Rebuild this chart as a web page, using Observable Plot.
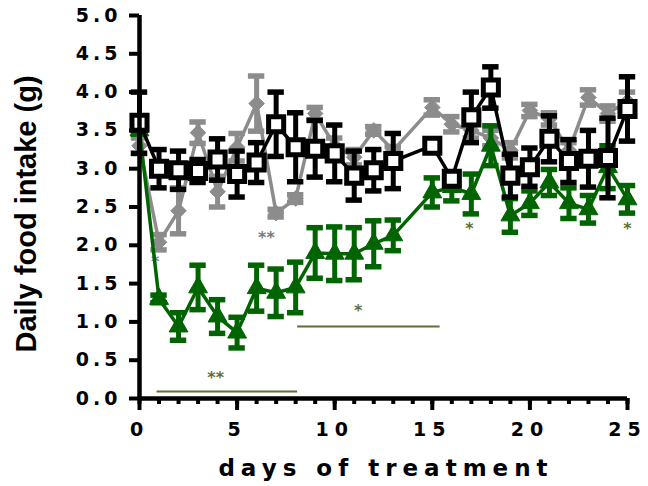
<!DOCTYPE html>
<html><head><meta charset="utf-8">
<script src="https://cdn.jsdelivr.net/npm/d3@7"></script>
<script src="https://cdn.jsdelivr.net/npm/@observablehq/plot@0.6"></script>
<style>
body{margin:0;background:#fff;}
#chart svg{display:block;}
#chart g[aria-label="y-axis tick label"] text{letter-spacing:4px;}
#chart g[aria-label="x-axis tick label"] text{letter-spacing:6px;}
</style>
</head><body><div id="chart"></div>
<script>
// ---- data ----
const days = [0,1,2,3,4,5,6,7,8,9,10,11,12,13,15,16,17,18,19,20,21,22,23,24,25];

const blackMean = [3.60,3.00,2.98,2.97,3.12,2.93,3.08,3.58,3.28,3.26,3.20,2.91,2.98,3.10,3.30,2.87,3.67,4.06,2.91,3.02,3.39,3.10,3.13,3.14,3.78];
const blackSem  = [0.40,0.25,0.25,0.15,0.27,0.30,0.26,0.42,0.45,0.37,0.37,0.32,0.27,0.36,0.05,0.08,0.33,0.27,0.28,0.25,0.30,0.28,0.37,0.52,0.42];

const grayMean = [3.30,2.04,2.45,3.47,2.70,3.28,3.85,2.42,2.61,3.72,3.30,3.15,3.50,3.24,3.80,3.58,3.50,3.40,3.24,3.76,3.65,3.24,3.93,3.72,3.88];
const graySem  = [0.10,0.10,0.30,0.14,0.20,0.18,0.36,0.05,0.05,0.08,0.10,0.10,0.05,0.05,0.10,0.10,0.10,0.10,0.10,0.08,0.08,0.10,0.10,0.10,0.12];

const greenMean = [3.50,1.30,0.94,1.45,1.07,0.86,1.44,1.38,1.45,1.90,1.89,1.89,2.02,2.13,2.69,2.76,2.67,3.30,2.39,2.55,2.82,2.55,2.47,3.02,2.60];
const greenSem  = [0.05,0.05,0.18,0.29,0.22,0.20,0.30,0.31,0.33,0.33,0.35,0.34,0.30,0.20,0.19,0.18,0.26,0.26,0.22,0.16,0.17,0.20,0.18,0.28,0.18];

// significance annotations
const starText  = ["*","**","**","*","*","*"];
const starDay   = [0.8,6.5,3.9,11.2,16.9,25];
const starValue = [1.78,2.10,0.27,1.14,2.22,2.22];
const starGroup = ["gray","gray","green","green","green","green"];

const barFrom  = [0.9,8.1];
const barTo    = [8.1,15.4];
const barValue = [0.09,0.94];

const xTicks = [0,5,10,15,20,25];
const yTicks = [0,0.5,1,1.5,2,2.5,3,3.5,4,4.5,5];

// ---- build ----
const rows = (m, s) => days.map((d, i) => ({day: d, mean: m[i], sem: s[i]}));
const black = rows(blackMean, blackSem);
const gray = rows(grayMean, graySem);
const green = rows(greenMean, greenSem);
const stars = starText.map((t, i) => ({t, day: starDay[i], v: starValue[i], g: starGroup[i]}));
const bars = barFrom.map((a, i) => ({a, b: barTo[i], v: barValue[i]}));

const GREEN = "#006400", GRAY = "#8c8c8c", OLIVE = "#5f6f35", STARGRAY = "#7a7a7a";
const cap = 0.42;

function series(data, color, dotOpts) {
  return [
    Plot.ruleX(data, {x: "day", y1: d => d.mean - d.sem, y2: d => d.mean + d.sem, stroke: color, strokeWidth: 5}),
    Plot.ruleY(data, {y: d => d.mean + d.sem, x1: d => d.day - cap, x2: d => d.day + cap, stroke: color, strokeWidth: 5.5}),
    Plot.ruleY(data, {y: d => d.mean - d.sem, x1: d => d.day - cap, x2: d => d.day + cap, stroke: color, strokeWidth: 5.5}),
    Plot.line(data, {x: "day", y: "mean", stroke: color, strokeWidth: 3.5}),
    Plot.dot(data, {x: "day", y: "mean", ...dotOpts})
  ];
}

const chart = Plot.plot({
  width: 648,
  height: 486,
  marginLeft: 139,
  marginRight: 21,
  marginTop: 15,
  marginBottom: 88,
  style: {fontFamily: "'DejaVu Sans', sans-serif", background: "#fff", overflow: "visible"},
  x: {domain: [0, 25]},
  y: {domain: [0, 5]},
  marks: [
    Plot.axisY({ticks: yTicks, tickFormat: d3.format(".1f"), tickSize: 10, tickPadding: 8, strokeWidth: 4, fontSize: 19, fontWeight: "bold", fill: "#000", label: null}),
    Plot.axisX({ticks: d3.range(0, 26), tickSize: 6, strokeWidth: 4, tickFormat: () => "", label: null}),
    Plot.axisX({ticks: xTicks, tickSize: 12, tickPadding: 12, strokeWidth: 4, fontSize: 19, fontWeight: "bold", fill: "#000", label: null}),
    Plot.ruleY(bars, {y: "v", x1: "a", x2: "b", stroke: OLIVE, strokeWidth: 2}),
    Plot.text(stars, {x: "day", y: "v", text: "t", fill: d => d.g === "gray" ? STARGRAY : OLIVE, fontSize: 16, fontWeight: "bold"}),
    ...series(gray, GRAY, {symbol: "diamond2", r: 7, fill: GRAY, stroke: GRAY, strokeWidth: 1}),
    ...series(green, GREEN, {symbol: "triangle", r: 7, fill: GREEN, stroke: GREEN, strokeWidth: 1}),
    ...series(black, "#000", {symbol: "square", r: 8.5, fill: "#fff", stroke: "#000", strokeWidth: 5}),
    Plot.ruleX([0], {stroke: "#000", strokeWidth: 4.5}),
    Plot.ruleY([0], {stroke: "#000", strokeWidth: 4.5})
  ]
});

const svg = d3.select(chart);
svg.append("text")
  .attr("transform", "translate(26,214) rotate(-90)")
  .attr("text-anchor", "middle")
  .attr("dominant-baseline", "central")
  .attr("font-family", "'Liberation Sans', Arial, sans-serif")
  .attr("font-weight", "bold")
  .attr("font-size", 29)
  .text("Daily food intake (g)");
svg.append("text")
  .attr("x", 386)
  .attr("y", 468)
  .attr("text-anchor", "middle")
  .attr("dominant-baseline", "central")
  .attr("font-family", "'DejaVu Sans', sans-serif")
  .attr("font-weight", "bold")
  .attr("font-size", 23)
  .attr("letter-spacing", "6px")
  .text("days of treatment");

document.getElementById("chart").append(chart);
</script>
</body></html>
